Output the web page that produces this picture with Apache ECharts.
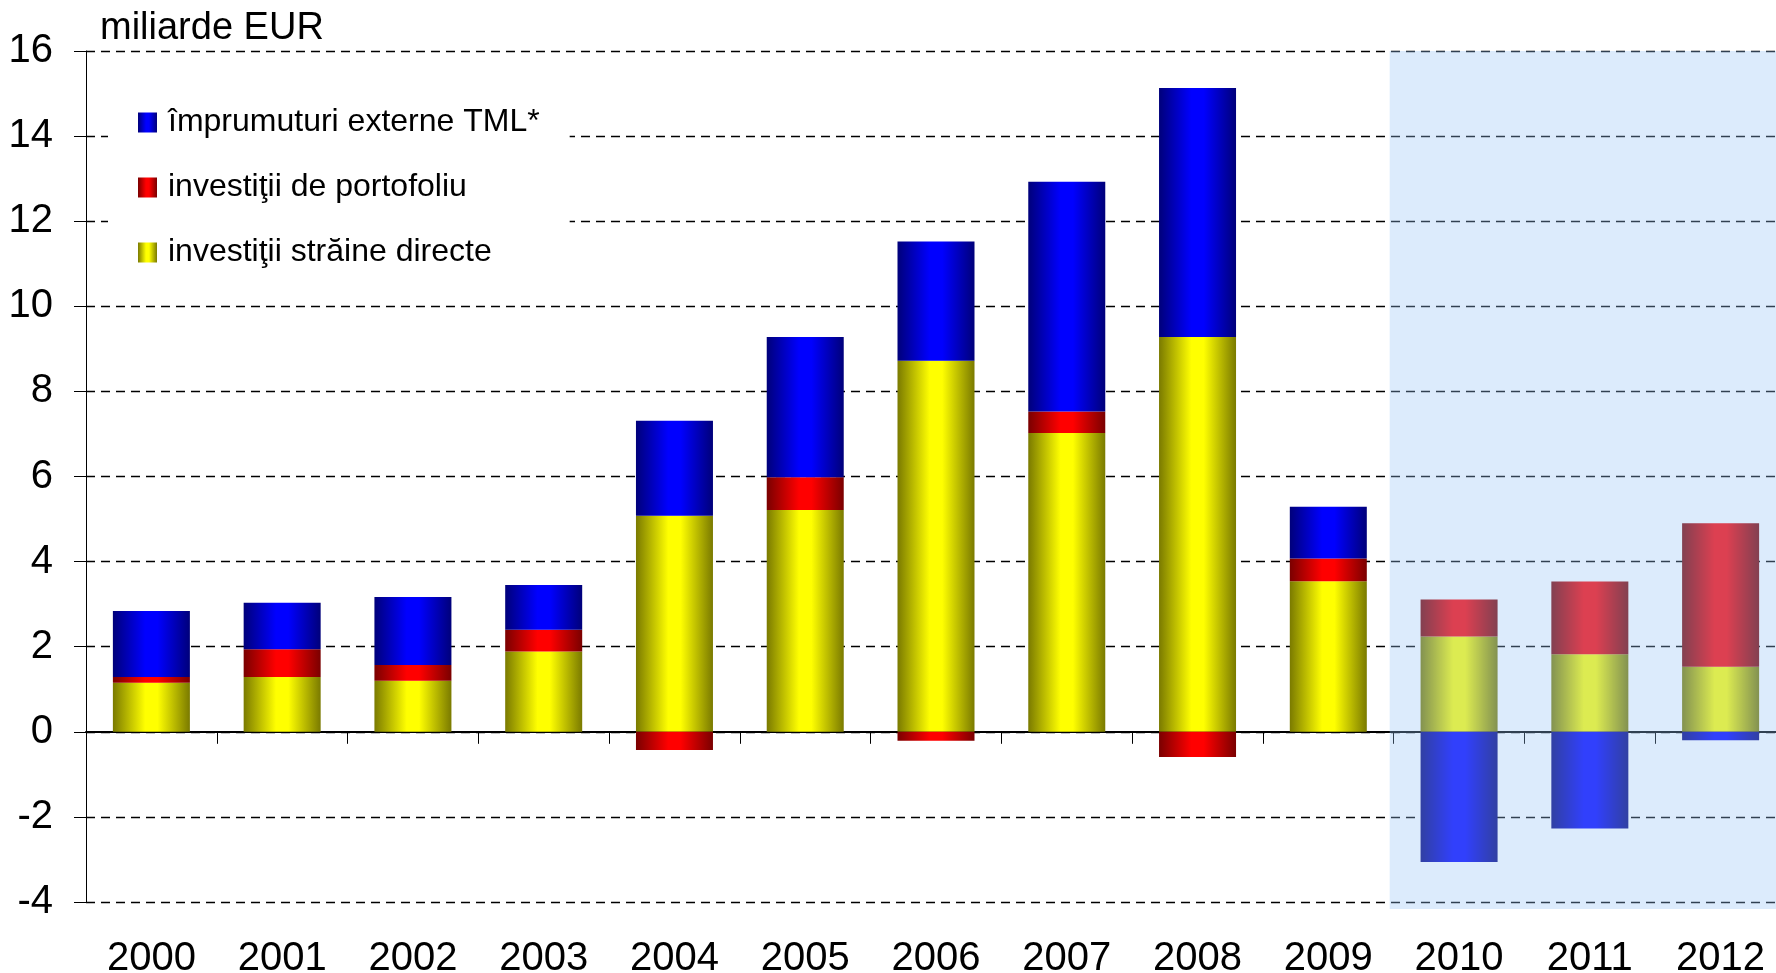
<!DOCTYPE html>
<html>
<head>
<meta charset="utf-8">
<title>Finantare externa</title>
<script src="https://cdn.jsdelivr.net/npm/echarts@6/dist/echarts.min.js"></script>
<style>
  html, body { margin: 0; padding: 0; background: #fff; overflow: hidden; }
  #chart { width: 1776px; height: 973px; }
</style>
</head>
<body>
<div id="chart"></div>
<script>
const years = ['2000', '2001', '2002', '2003', '2004', '2005', '2006', '2007', '2008', '2009', '2010', '2011', '2012']
const fdi = [1.15, 1.29, 1.20, 1.89, 5.08, 5.21, 8.72, 7.02, 9.28, 3.54, 2.24, 1.82, 1.53]
const portfolio = [0.14, 0.65, 0.37, 0.51, -0.43, 0.77, -0.21, 0.51, -0.59, 0.53, 0.87, 1.71, 3.37]
const loans = [1.55, 1.09, 1.60, 1.05, 2.23, 3.30, 2.80, 5.40, 5.85, 1.22, -3.06, -2.27, -0.20]
const yTicks = { min: -4, max: 16, step: 2 }
const forecastFrom = '2010'

const FONT = '"Liberation Sans", Arial, sans-serif'

function barGradient(dark, bright) {
  return new echarts.graphic.LinearGradient(0, 0, 1, 0, [
    { offset: 0, color: dark },
    { offset: 0.42, color: bright },
    { offset: 0.58, color: bright },
    { offset: 1, color: dark },
  ])
}

function barSeries(name, data, dark, bright) {
  return {
    name: name,
    type: 'bar',
    stack: 'total',
    data: data,
    barWidth: 77,
    itemStyle: { color: barGradient(dark, bright) },
  }
}

const chart = echarts.init(document.getElementById('chart'))

chart.setOption({
  animation: false,
  backgroundColor: '#fff',
  textStyle: { fontFamily: FONT, color: '#000' },
  title: {
    text: 'miliarde EUR',
    left: 100,
    top: 10,
    padding: 0,
    textStyle: { fontFamily: FONT, fontSize: 38, fontWeight: 'normal', color: '#000' },
  },
  legend: {
    orient: 'vertical',
    left: 108,
    top: 82,
    padding: [22, 30, 22, 30],
    backgroundColor: '#fff',
    itemWidth: 19,
    itemHeight: 20,
    itemGap: 28,
    icon: 'rect',
    data: ['împrumuturi externe TML*', 'investiţii de portofoliu', 'investiţii străine directe'],
    textStyle: { fontFamily: FONT, fontSize: 32, color: '#000', lineHeight: 37, padding: [0, 0, 0, 6] },
    selectedMode: false,
    z: 20,
  },
  // plot area runs a little past the right edge of the picture, as in the source;
  // outerBoundsMode off so v6 does not squeeze the grid to fit the labels
  grid: { left: 86, right: -10, top: 51, bottom: 71, outerBoundsMode: 'none' },
  xAxis: [
    {
      type: 'category',
      data: years,
      axisLine: { onZero: true, lineStyle: { color: '#000', width: 2 } },
      axisTick: { show: true, length: 12, lineStyle: { color: '#000', width: 1 } },
      axisLabel: { show: false },
      splitLine: { show: false },
    },
    {
      type: 'category',
      data: years,
      position: 'bottom',
      axisLine: { show: false, onZero: false },
      axisTick: { show: false },
      axisLabel: { fontFamily: FONT, fontSize: 40, color: '#000', margin: 37 },
    },
  ],
  yAxis: {
    type: 'value',
    min: yTicks.min,
    max: yTicks.max,
    interval: yTicks.step,
    axisLine: { show: true, lineStyle: { color: '#000', width: 1 } },
    axisTick: { show: true, length: 12, lineStyle: { color: '#000', width: 1 } },
    axisLabel: { fontFamily: FONT, fontSize: 40, color: '#000', margin: 33 },
    splitLine: { show: true, lineStyle: { color: '#000', width: 1.3, type: [9, 6] } },
  },
  series: [
    barSeries('investiţii străine directe', fdi, '#7a7a00', '#ffff00'),
    barSeries('investiţii de portofoliu', portfolio, '#7a0000', '#ff0000'),
    barSeries('împrumuturi externe TML*', loans, '#00007a', '#0000ff'),
  ],
})

// light blue veil over the forecast years, laid on top of the bars
function drawForecastShade() {
  const idx = years.indexOf(forecastFrom)
  const xPrev = chart.convertToPixel({ xAxisIndex: 0 }, years[idx - 1])
  const xCur = chart.convertToPixel({ xAxisIndex: 0 }, years[idx])
  const x0 = (xPrev + xCur) / 2 - 4
  const yTop = chart.convertToPixel({ yAxisIndex: 0 }, yTicks.max)
  const yBottom = chart.convertToPixel({ yAxisIndex: 0 }, yTicks.min) + 7
  chart.setOption({
    graphic: [{
      type: 'rect',
      z: 50,
      silent: true,
      shape: { x: x0, y: yTop, width: chart.getWidth() - x0, height: yBottom - yTop },
      style: { fill: 'rgba(149,194,246,0.33)' },
    }],
  })
}

drawForecastShade()
</script>
</body>
</html>
